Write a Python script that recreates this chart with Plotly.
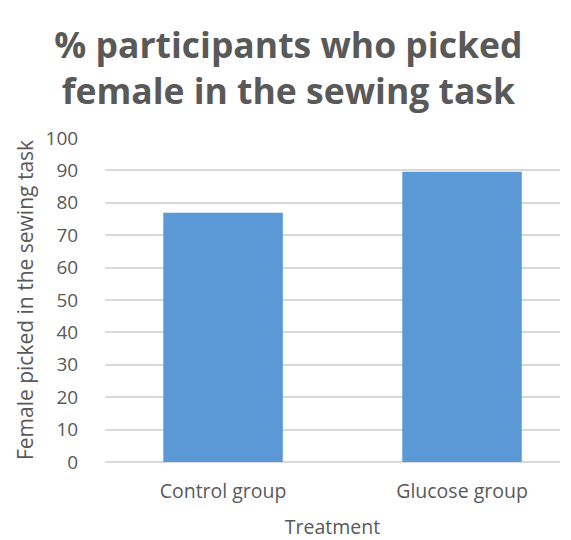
import plotly.graph_objects as go

categories = ["Control group", "Glucose group"]
values = [76.9, 89.6]
y_ticks = list(range(0, 101, 10))

font_family = "Open Sans, Lato, sans-serif"
gray = "#595959"

fig = go.Figure()
fig.add_trace(go.Bar(
    x=categories, y=values, width=0.5,
    marker=dict(color="#5b98d6", line=dict(width=0)),
))

fig.update_layout(
    width=571, height=540,
    margin=dict(l=105, r=11, t=138, b=78),
    paper_bgcolor="white", plot_bgcolor="white",
    showlegend=False,
    title=dict(
        text="% participants who picked<br>female in the sewing task",
        x=0.505, xanchor="center", y=1 - 58 / 540, yanchor="middle",
        font=dict(family=font_family, size=35.5, color=gray, weight="bold"),
    ),
    xaxis=dict(
        range=[-0.494, 1.41], automargin=False,
        showgrid=False, showline=False, zeroline=False,
        ticks="outside", ticklen=12, tickcolor="rgba(0,0,0,0)",
        tickfont=dict(family=font_family, size=19.5, color=gray),
        title=dict(text="Treatment", standoff=18,
                   font=dict(family=font_family, size=19.5, color=gray)),
    ),
    yaxis=dict(
        range=[0, 100], tickvals=y_ticks, automargin=False,
        showgrid=True, gridcolor="#d9d9d9", gridwidth=1.5,
        zeroline=True, zerolinecolor="#d9d9d9", zerolinewidth=1.5,
        showline=False,
        ticks="outside", ticklen=22, tickcolor="rgba(0,0,0,0)",
        tickfont=dict(family=font_family, size=19, color=gray),
        title=dict(text="Female picked in the sewing task", standoff=6,
                   font=dict(family=font_family, size=21, color=gray)),
    ),
)

fig.write_html("out.html")
